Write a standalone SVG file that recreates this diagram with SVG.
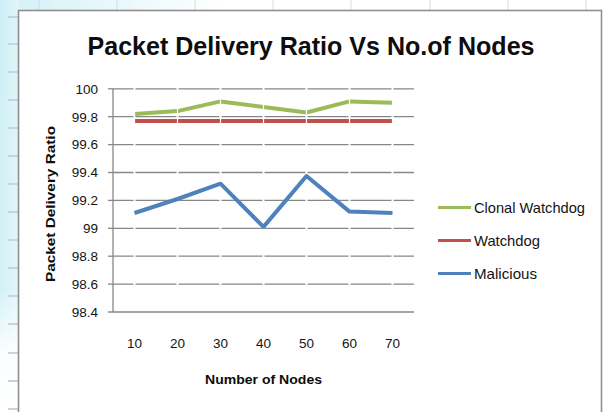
<svg xmlns="http://www.w3.org/2000/svg" width="605" height="412" viewBox="0 0 605 412">
<defs>
<linearGradient id="strip" x1="0" y1="0" x2="0" y2="1">
<stop offset="0" stop-color="#cdeff5"/>
<stop offset="0.7" stop-color="#d3f1f6"/>
<stop offset="0.85" stop-color="#f8fdfe"/>
<stop offset="1" stop-color="#ffffff"/>
</linearGradient>
<linearGradient id="stripH" x1="0" y1="0" x2="1" y2="0">
<stop offset="0" stop-color="#ffffff" stop-opacity="0"/>
<stop offset="1" stop-color="#ffffff" stop-opacity="0.4"/>
</linearGradient>
<linearGradient id="topstrip" x1="0" y1="0" x2="1" y2="0">
<stop offset="0" stop-color="#d6f2f7"/>
<stop offset="0.35" stop-color="#ffffff"/>
<stop offset="1" stop-color="#ffffff"/>
</linearGradient>
</defs>
<style>
.sheet{stroke:#c9d2e2;stroke-width:2}
.sheetv{stroke:#d4dae4;stroke-width:1}
.grid{stroke:#878787;stroke-width:1.3;fill:none}
.gridd{stroke:#878787;stroke-width:1.3;fill:none;stroke-dasharray:41 2;stroke-dashoffset:20.5}
.series{fill:none;stroke-width:4;stroke-linejoin:round;stroke-linecap:butt}
.ylab{font-family:"Liberation Sans",Arial,sans-serif;font-size:13.5px;fill:#141414;text-anchor:end}
.xlab{font-family:"Liberation Sans",Arial,sans-serif;font-size:13.5px;fill:#141414;text-anchor:middle}
.leg{font-family:"Liberation Sans",Arial,sans-serif;font-size:14.5px;fill:#141414}
.bold{font-family:"Liberation Sans",Arial,sans-serif;font-weight:bold;fill:#0d0d0d}
</style>
<rect x="0" y="0" width="605" height="412" fill="#ffffff"/>
<rect x="0" y="0" width="19" height="412" fill="url(#strip)"/>
<rect x="0" y="0" width="19" height="412" fill="url(#stripH)"/>
<rect x="19" y="0" width="586" height="10" fill="url(#topstrip)"/>
<g id="sheet-lines">
<line class="sheet" x1="8" y1="17" x2="18" y2="17"/>
<line class="sheet" x1="8" y1="44" x2="18" y2="44"/>
<line class="sheet" x1="8" y1="72" x2="18" y2="72"/>
<line class="sheet" x1="8" y1="100" x2="18" y2="100"/>
<line class="sheet" x1="8" y1="128" x2="18" y2="128"/>
<line class="sheet" x1="8" y1="156" x2="18" y2="156"/>
<line class="sheet" x1="8" y1="184" x2="18" y2="184"/>
<line class="sheet" x1="8" y1="212" x2="18" y2="212"/>
<line class="sheet" x1="8" y1="240" x2="18" y2="240"/>
<line class="sheet" x1="8" y1="268" x2="18" y2="268"/>
<line class="sheet" x1="8" y1="296" x2="18" y2="296"/>
<line class="sheet" x1="8" y1="324" x2="18" y2="324"/>
<line class="sheet" x1="8" y1="353" x2="18" y2="353"/>
<line class="sheet" x1="8" y1="381" x2="18" y2="381"/>
<line class="sheet" x1="8" y1="409" x2="18" y2="409"/>
<line class="sheetv" x1="39" y1="0" x2="39" y2="10"/>
<line class="sheetv" x1="117" y1="0" x2="117" y2="10"/>
<line class="sheetv" x1="195" y1="0" x2="195" y2="10"/>
<line class="sheetv" x1="273" y1="0" x2="273" y2="10"/>
<line class="sheetv" x1="351" y1="0" x2="351" y2="10"/>
<line class="sheetv" x1="430" y1="0" x2="430" y2="10"/>
<line class="sheetv" x1="508" y1="0" x2="508" y2="10"/>
<line class="sheetv" x1="586" y1="0" x2="586" y2="10"/>
</g>
<g id="chart-frame">
<rect x="18.5" y="10.5" width="583" height="410" fill="#ffffff" stroke="#8f8f8f" stroke-width="1.6"/>
</g>
<g id="title">
<text class="bold" x="311" y="54.5" font-size="25.5" text-anchor="middle" textLength="447" lengthAdjust="spacingAndGlyphs">Packet Delivery Ratio Vs No.of Nodes</text>
</g>
<g id="gridlines">
<line class="grid" x1="108" y1="88.8" x2="113" y2="88.8"/>
<line class="gridd" x1="113" y1="88.8" x2="414" y2="88.8"/>
<line class="grid" x1="108" y1="116.7" x2="113" y2="116.7"/>
<line class="gridd" x1="113" y1="116.7" x2="414" y2="116.7"/>
<line class="grid" x1="108" y1="144.6" x2="113" y2="144.6"/>
<line class="gridd" x1="113" y1="144.6" x2="414" y2="144.6"/>
<line class="grid" x1="108" y1="172.5" x2="113" y2="172.5"/>
<line class="gridd" x1="113" y1="172.5" x2="414" y2="172.5"/>
<line class="grid" x1="108" y1="200.4" x2="113" y2="200.4"/>
<line class="gridd" x1="113" y1="200.4" x2="414" y2="200.4"/>
<line class="grid" x1="108" y1="228.3" x2="113" y2="228.3"/>
<line class="gridd" x1="113" y1="228.3" x2="414" y2="228.3"/>
<line class="grid" x1="108" y1="256.2" x2="113" y2="256.2"/>
<line class="gridd" x1="113" y1="256.2" x2="414" y2="256.2"/>
<line class="grid" x1="108" y1="284.1" x2="113" y2="284.1"/>
<line class="gridd" x1="113" y1="284.1" x2="414" y2="284.1"/>
<line class="grid" x1="108" y1="312" x2="414" y2="312"/>
<line class="grid" x1="113" y1="88.8" x2="113" y2="312"/>
</g>
<g id="y-labels">
<text class="ylab" x="98" y="93.6">100</text>
<text class="ylab" x="98" y="121.5">99.8</text>
<text class="ylab" x="98" y="149.4">99.6</text>
<text class="ylab" x="98" y="177.3">99.4</text>
<text class="ylab" x="98" y="205.2">99.2</text>
<text class="ylab" x="98" y="233.1">99</text>
<text class="ylab" x="98" y="261">98.8</text>
<text class="ylab" x="98" y="288.9">98.6</text>
<text class="ylab" x="98" y="316.8">98.4</text>
</g>
<g id="x-labels">
<text class="xlab" x="134.5" y="348">10</text>
<text class="xlab" x="177.5" y="348">20</text>
<text class="xlab" x="220.5" y="348">30</text>
<text class="xlab" x="263.5" y="348">40</text>
<text class="xlab" x="306.5" y="348">50</text>
<text class="xlab" x="349.5" y="348">60</text>
<text class="xlab" x="392.5" y="348">70</text>
</g>
<g id="axis-titles">
<text class="bold" x="263.5" y="384" font-size="13.5" text-anchor="middle" textLength="117" lengthAdjust="spacingAndGlyphs">Number of Nodes</text>
<text class="bold" transform="translate(55,204) rotate(-90)" x="0" y="0" font-size="13" text-anchor="middle" textLength="156" lengthAdjust="spacingAndGlyphs">Packet Delivery Ratio</text>
</g>
<g id="connectors">
<polyline id="clonal-watchdog" class="series" stroke="#9bbb59" points="134.5,113.9 177.5,111.1 220.5,101.4 263.5,106.9 306.5,112.5 349.5,101.4 392.5,102.8"/>
<polyline id="watchdog" class="series" stroke="#c0504d" points="134.5,120.9 177.5,120.9 220.5,120.9 263.5,120.9 306.5,120.9 349.5,120.9 392.5,120.9"/>
<g stroke="#ffffff" stroke-width="1.2">
<line x1="134.5" y1="98" x2="134.5" y2="124"/>
<line x1="177.5" y1="98" x2="177.5" y2="124"/>
<line x1="220.5" y1="98" x2="220.5" y2="124"/>
<line x1="263.5" y1="98" x2="263.5" y2="124"/>
<line x1="306.5" y1="98" x2="306.5" y2="124"/>
<line x1="349.5" y1="98" x2="349.5" y2="124"/>
<line x1="392.5" y1="98" x2="392.5" y2="124"/>
</g>
<polyline id="malicious" class="series" stroke="#4f81bd" points="134.5,213 177.5,199 220.5,183.7 263.5,226.9 306.5,176 349.5,211.6 392.5,213"/>
</g>
<g id="legend">
<line x1="438" y1="207.5" x2="471" y2="207.5" stroke="#9bbb59" stroke-width="3"/>
<text class="leg" x="474" y="212.5" textLength="111" lengthAdjust="spacingAndGlyphs">Clonal Watchdog</text>
<line x1="438" y1="240.5" x2="471" y2="240.5" stroke="#c0504d" stroke-width="3"/>
<text class="leg" x="474" y="245.5" textLength="66" lengthAdjust="spacingAndGlyphs">Watchdog</text>
<line x1="438" y1="273.5" x2="471" y2="273.5" stroke="#4f81bd" stroke-width="3"/>
<text class="leg" x="474" y="278.5" textLength="63" lengthAdjust="spacingAndGlyphs">Malicious</text>
</g>
</svg>
